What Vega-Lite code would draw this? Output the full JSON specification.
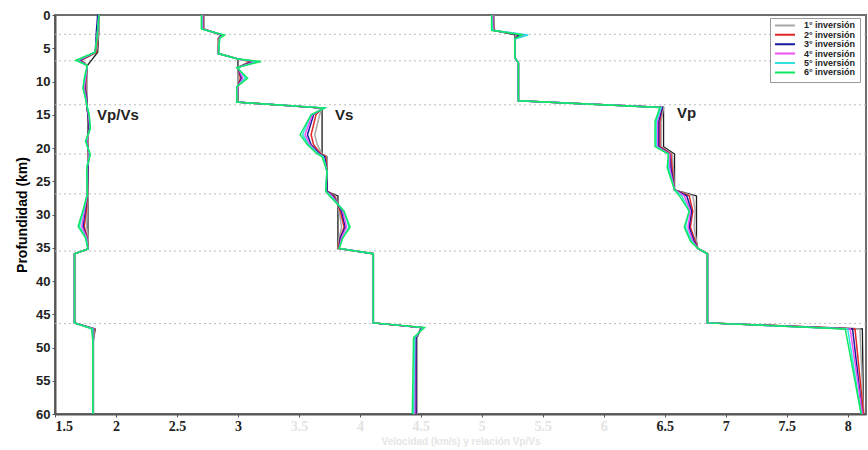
{
  "$schema": "https://vega.github.io/schema/vega-lite/v6.json",
  "width": 811,
  "height": 399,
  "autosize": {"type": "none"},
  "padding": {"left": 55, "top": 15, "right": 2, "bottom": 36},
  "background": "white",
  "config": {
    "view": {"stroke": "#6e6e6e", "strokeWidth": 2},
    "axis": {
      "labelFont": "Liberation Sans",
      "labelFontWeight": "bold",
      "labelFontSize": 13,
      "labelColor": "#222222",
      "domainColor": "#555555",
      "domainWidth": 2,
      "tickColor": "#555555",
      "tickSize": 3,
      "grid": false,
      "labelOverlap": false,
      "titleFont": "Liberation Sans",
      "titleFontWeight": "bold"
    }
  },
  "datasets": {
    "prof": [
      {"p":"R","d":0,"m":1.86,"i1":1.86,"i2":1.86,"i3":1.85,"i4":1.86,"i5":1.86,"i6":1.86},
      {"p":"R","d":2.3,"m":1.86,"i1":1.86,"i2":1.85,"i3":1.84,"i4":1.85,"i5":1.85,"i6":1.85},
      {"p":"R","d":5.6,"m":1.85,"i1":1.84,"i2":1.84,"i3":1.83,"i4":1.83,"i5":1.83,"i6":1.83},
      {"p":"R","d":6.8,"m":1.8,"i1":1.72,"i2":1.71,"i3":1.7,"i4":1.69,"i5":1.68,"i6":1.67},
      {"p":"R","d":7.6,"m":1.765,"i1":1.765,"i2":1.765,"i3":1.765,"i4":1.765,"i5":1.765,"i6":1.765},
      {"p":"R","d":9.5,"m":1.76,"i1":1.76,"i2":1.755,"i3":1.75,"i4":1.75,"i5":1.745,"i6":1.74},
      {"p":"R","d":11,"m":1.76,"i1":1.755,"i2":1.75,"i3":1.745,"i4":1.74,"i5":1.73,"i6":1.73},
      {"p":"R","d":12.5,"m":1.76,"i1":1.76,"i2":1.76,"i3":1.76,"i4":1.755,"i5":1.75,"i6":1.75},
      {"p":"R","d":13.5,"m":1.76,"i1":1.76,"i2":1.76,"i3":1.76,"i4":1.76,"i5":1.76,"i6":1.76},
      {"p":"R","d":15,"m":1.77,"i1":1.77,"i2":1.77,"i3":1.77,"i4":1.775,"i5":1.78,"i6":1.78},
      {"p":"R","d":17,"m":1.77,"i1":1.775,"i2":1.78,"i3":1.78,"i4":1.785,"i5":1.79,"i6":1.79},
      {"p":"R","d":19,"m":1.77,"i1":1.77,"i2":1.765,"i3":1.76,"i4":1.76,"i5":1.755,"i6":1.75},
      {"p":"R","d":21,"m":1.77,"i1":1.77,"i2":1.775,"i3":1.78,"i4":1.78,"i5":1.785,"i6":1.79},
      {"p":"R","d":23,"m":1.77,"i1":1.77,"i2":1.77,"i3":1.77,"i4":1.765,"i5":1.76,"i6":1.76},
      {"p":"R","d":26.9,"m":1.77,"i1":1.77,"i2":1.765,"i3":1.765,"i4":1.765,"i5":1.765,"i6":1.765},
      {"p":"R","d":29,"m":1.77,"i1":1.765,"i2":1.76,"i3":1.75,"i4":1.745,"i5":1.74,"i6":1.735},
      {"p":"R","d":31.8,"m":1.77,"i1":1.76,"i2":1.74,"i3":1.73,"i4":1.72,"i5":1.7,"i6":1.69},
      {"p":"R","d":33.5,"m":1.77,"i1":1.77,"i2":1.765,"i3":1.76,"i4":1.76,"i5":1.755,"i6":1.75},
      {"p":"R","d":35.2,"m":1.77,"i1":1.77,"i2":1.77,"i3":1.77,"i4":1.77,"i5":1.77,"i6":1.77},
      {"p":"R","d":35.9,"m":1.66,"i1":1.66,"i2":1.66,"i3":1.66,"i4":1.66,"i5":1.66,"i6":1.66},
      {"p":"R","d":46.3,"m":1.66,"i1":1.66,"i2":1.66,"i3":1.66,"i4":1.66,"i5":1.66,"i6":1.66},
      {"p":"R","d":47.2,"m":1.83,"i1":1.825,"i2":1.82,"i3":1.815,"i4":1.81,"i5":1.81,"i6":1.8},
      {"p":"R","d":49,"m":1.815,"i1":1.815,"i2":1.81,"i3":1.81,"i4":1.81,"i5":1.81,"i6":1.81},
      {"p":"R","d":60,"m":1.815,"i1":1.815,"i2":1.81,"i3":1.81,"i4":1.81,"i5":1.81,"i6":1.81},

      {"p":"S","d":0,"m":2.72,"i1":2.72,"i2":2.715,"i3":2.71,"i4":2.71,"i5":2.705,"i6":2.7},
      {"p":"S","d":2.1,"m":2.72,"i1":2.72,"i2":2.715,"i3":2.71,"i4":2.71,"i5":2.705,"i6":2.7},
      {"p":"S","d":3,"m":2.86,"i1":2.86,"i2":2.87,"i3":2.87,"i4":2.88,"i5":2.88,"i6":2.89},
      {"p":"S","d":3.5,"m":2.84,"i1":2.84,"i2":2.84,"i3":2.845,"i4":2.845,"i5":2.85,"i6":2.85},
      {"p":"S","d":5.8,"m":2.84,"i1":2.84,"i2":2.84,"i3":2.84,"i4":2.84,"i5":2.84,"i6":2.84},
      {"p":"S","d":6.6,"m":3.0,"i1":3.0,"i2":3.0,"i3":3.0,"i4":3.0,"i5":3.0,"i6":3.0},
      {"p":"S","d":7,"m":3.0,"i1":3.09,"i2":3.11,"i3":3.13,"i4":3.15,"i5":3.17,"i6":3.19},
      {"p":"S","d":7.9,"m":3.0,"i1":3.0,"i2":3.0,"i3":3.0,"i4":3.0,"i5":3.0,"i6":2.99},
      {"p":"S","d":9.5,"m":3.0,"i1":3.0,"i2":3.02,"i3":3.03,"i4":3.04,"i5":3.06,"i6":3.08},
      {"p":"S","d":10.8,"m":3.0,"i1":3.0,"i2":3.0,"i3":3.0,"i4":3.0,"i5":2.99,"i6":2.99},
      {"p":"S","d":13.1,"m":3.0,"i1":2.99,"i2":2.99,"i3":2.99,"i4":2.99,"i5":2.99,"i6":2.99},
      {"p":"S","d":14,"m":3.69,"i1":3.69,"i2":3.69,"i3":3.7,"i4":3.7,"i5":3.71,"i6":3.71},
      {"p":"S","d":15,"m":3.69,"i1":3.67,"i2":3.64,"i3":3.62,"i4":3.61,"i5":3.6,"i6":3.6},
      {"p":"S","d":18,"m":3.69,"i1":3.63,"i2":3.6,"i3":3.57,"i4":3.55,"i5":3.53,"i6":3.51},
      {"p":"S","d":19.5,"m":3.69,"i1":3.65,"i2":3.62,"i3":3.6,"i4":3.59,"i5":3.58,"i6":3.57},
      {"p":"S","d":20.9,"m":3.69,"i1":3.69,"i2":3.68,"i3":3.67,"i4":3.66,"i5":3.66,"i6":3.65},
      {"p":"S","d":21.3,"m":3.73,"i1":3.73,"i2":3.72,"i3":3.71,"i4":3.7,"i5":3.7,"i6":3.69},
      {"p":"S","d":23.5,"m":3.73,"i1":3.73,"i2":3.73,"i3":3.73,"i4":3.73,"i5":3.73,"i6":3.73},
      {"p":"S","d":26.5,"m":3.73,"i1":3.73,"i2":3.73,"i3":3.73,"i4":3.72,"i5":3.72,"i6":3.72},
      {"p":"S","d":27.2,"m":3.82,"i1":3.8,"i2":3.79,"i3":3.78,"i4":3.77,"i5":3.76,"i6":3.75},
      {"p":"S","d":29.5,"m":3.82,"i1":3.83,"i2":3.84,"i3":3.85,"i4":3.86,"i5":3.87,"i6":3.87},
      {"p":"S","d":31.9,"m":3.82,"i1":3.85,"i2":3.87,"i3":3.88,"i4":3.89,"i5":3.91,"i6":3.92},
      {"p":"S","d":33.5,"m":3.82,"i1":3.83,"i2":3.84,"i3":3.84,"i4":3.85,"i5":3.86,"i6":3.86},
      {"p":"S","d":35.1,"m":3.82,"i1":3.82,"i2":3.82,"i3":3.83,"i4":3.83,"i5":3.83,"i6":3.83},
      {"p":"S","d":35.9,"m":4.11,"i1":4.11,"i2":4.11,"i3":4.11,"i4":4.11,"i5":4.11,"i6":4.11},
      {"p":"S","d":46.3,"m":4.11,"i1":4.11,"i2":4.11,"i3":4.11,"i4":4.11,"i5":4.11,"i6":4.11},
      {"p":"S","d":47,"m":4.5,"i1":4.5,"i2":4.51,"i3":4.51,"i4":4.52,"i5":4.52,"i6":4.53},
      {"p":"S","d":48.5,"m":4.47,"i1":4.47,"i2":4.46,"i3":4.46,"i4":4.45,"i5":4.45,"i6":4.44},
      {"p":"S","d":60,"m":4.47,"i1":4.47,"i2":4.46,"i3":4.46,"i4":4.45,"i5":4.44,"i6":4.43},

      {"p":"P","d":0,"m":5.1,"i1":5.1,"i2":5.09,"i3":5.09,"i4":5.09,"i5":5.08,"i6":5.08},
      {"p":"P","d":2.3,"m":5.1,"i1":5.1,"i2":5.1,"i3":5.09,"i4":5.09,"i5":5.09,"i6":5.08},
      {"p":"P","d":3,"m":5.27,"i1":5.28,"i2":5.3,"i3":5.31,"i4":5.36,"i5":5.38,"i6":5.33},
      {"p":"P","d":3.6,"m":5.27,"i1":5.27,"i2":5.27,"i3":5.27,"i4":5.27,"i5":5.27,"i6":5.27},
      {"p":"P","d":6.4,"m":5.27,"i1":5.27,"i2":5.27,"i3":5.27,"i4":5.27,"i5":5.27,"i6":5.27},
      {"p":"P","d":7.2,"m":5.3,"i1":5.3,"i2":5.3,"i3":5.3,"i4":5.3,"i5":5.3,"i6":5.3},
      {"p":"P","d":12.9,"m":5.3,"i1":5.3,"i2":5.3,"i3":5.3,"i4":5.3,"i5":5.3,"i6":5.3},
      {"p":"P","d":13.9,"m":6.49,"i1":6.49,"i2":6.48,"i3":6.48,"i4":6.47,"i5":6.47,"i6":6.46},
      {"p":"P","d":16,"m":6.49,"i1":6.47,"i2":6.46,"i3":6.45,"i4":6.44,"i5":6.43,"i6":6.42},
      {"p":"P","d":19.8,"m":6.49,"i1":6.47,"i2":6.46,"i3":6.45,"i4":6.44,"i5":6.43,"i6":6.42},
      {"p":"P","d":20.9,"m":6.58,"i1":6.56,"i2":6.55,"i3":6.54,"i4":6.54,"i5":6.53,"i6":6.53},
      {"p":"P","d":23,"m":6.58,"i1":6.57,"i2":6.56,"i3":6.55,"i4":6.54,"i5":6.53,"i6":6.52},
      {"p":"P","d":26.3,"m":6.58,"i1":6.58,"i2":6.58,"i3":6.58,"i4":6.58,"i5":6.58,"i6":6.58},
      {"p":"P","d":27.2,"m":6.76,"i1":6.73,"i2":6.7,"i3":6.68,"i4":6.66,"i5":6.64,"i6":6.62},
      {"p":"P","d":29.5,"m":6.76,"i1":6.75,"i2":6.73,"i3":6.72,"i4":6.71,"i5":6.7,"i6":6.7},
      {"p":"P","d":31.9,"m":6.76,"i1":6.74,"i2":6.71,"i3":6.7,"i4":6.69,"i5":6.67,"i6":6.66},
      {"p":"P","d":34,"m":6.76,"i1":6.76,"i2":6.75,"i3":6.74,"i4":6.73,"i5":6.72,"i6":6.71},
      {"p":"P","d":35.1,"m":6.77,"i1":6.77,"i2":6.77,"i3":6.77,"i4":6.77,"i5":6.77,"i6":6.77},
      {"p":"P","d":35.9,"m":6.85,"i1":6.85,"i2":6.85,"i3":6.85,"i4":6.85,"i5":6.85,"i6":6.85},
      {"p":"P","d":46.3,"m":6.85,"i1":6.85,"i2":6.85,"i3":6.85,"i4":6.85,"i5":6.85,"i6":6.85},
      {"p":"P","d":47.2,"m":8.12,"i1":8.1,"i2":8.06,"i3":8.04,"i4":8.02,"i5":8.0,"i6":7.98},
      {"p":"P","d":60,"m":8.13,"i1":8.13,"i2":8.13,"i3":8.12,"i4":8.12,"i5":8.11,"i6":8.11}
    ],
    "bounds": [{"d":2.9},{"d":6.9},{"d":13.5},{"d":20.9},{"d":26.9},{"d":35.5},{"d":46.4}],
    "labels": [
      {"t":"Vp/Vs","v":1.845,"d":15.0},
      {"t":"Vs","v":3.795,"d":15.0},
      {"t":"Vp","v":6.6,"d":14.7}
    ]
  },
  "layer": [
    {
      "data": {"name": "bounds"},
      "mark": {"type": "rule", "color": "#bdbdbd", "strokeDash": [2, 3], "strokeWidth": 1},
      "encoding": {
        "y": {"field": "d", "type": "quantitative", "scale": {"domain": [0, 60], "reverse": true, "nice": false, "zero": false},
              "axis": {"title": "Profundidad (km)", "values": [0,5,10,15,20,25,30,35,40,45,50,55,60], "titleFontSize": 14, "titlePadding": 6, "labelPadding": 2}}
      }
    },
    {
      "data": {"name": "prof"},
      "mark": {"type": "line", "color": "#1a1a1a", "strokeWidth": 1.3},
      "encoding": {
        "x": {"field": "m", "type": "quantitative", "scale": {"domain": [1.5, 8.15], "nice": false, "zero": false},
              "axis": {"title": "Velocidad (km/s) y relación Vp/Vs", "values": [1.5,2,2.5,3,3.5,4,4.5,5,5.5,6,6.5,7,7.5,8], "format": "~g",
                       "labelFont": "Liberation Sans Narrow", "labelFontSize": 14,
                       "labelColor": {"condition": {"test": "datum.value > 3.2 && datum.value < 6.2", "value": "#e3e3e3"}, "value": "#222222"},
                       "titleColor": "#e6e6e6", "titleFontSize": 10, "titlePadding": 3, "labelPadding": 2}},
        "y": {"field": "d", "type": "quantitative",
              "axis": {"title": "Profundidad (km)", "values": [0,5,10,15,20,25,30,35,40,45,50,55,60], "titleFontSize": 14, "titlePadding": 6, "labelPadding": 2}},
        "detail": {"field": "p"},
        "order": {"field": "d", "type": "quantitative"}
      }
    },
    {
      "data": {"name": "prof"},
      "transform": [{"fold": ["i1","i2","i3","i4","i5","i6"], "as": ["k","v"]}],
      "mark": {"type": "line", "strokeWidth": 1.5},
      "encoding": {
        "x": {"field": "v", "type": "quantitative",
              "axis": {"title": "Velocidad (km/s) y relación Vp/Vs", "values": [1.5,2,2.5,3,3.5,4,4.5,5,5.5,6,6.5,7,7.5,8], "format": "~g",
                       "labelFont": "Liberation Sans Narrow", "labelFontSize": 14,
                       "labelColor": {"condition": {"test": "datum.value > 3.2 && datum.value < 6.2", "value": "#e3e3e3"}, "value": "#222222"},
                       "titleColor": "#e6e6e6", "titleFontSize": 10, "titlePadding": 3, "labelPadding": 2}},
        "y": {"field": "d", "type": "quantitative",
              "axis": {"title": "Profundidad (km)", "values": [0,5,10,15,20,25,30,35,40,45,50,55,60], "titleFontSize": 14, "titlePadding": 6, "labelPadding": 2}},
        "detail": {"field": "p"},
        "order": {"field": "d", "type": "quantitative"},
        "color": {
          "field": "k", "type": "nominal",
          "scale": {"domain": ["i1","i2","i3","i4","i5","i6"], "range": ["#a8a8a8","#e02828","#1a1aa0","#f050f0","#30e0e0","#10e860"]},
          "legend": {
            "title": null, "orient": "none", "legendX": 715, "legendY": 3,
            "labelExpr": "replace(datum.label, 'i', '') + '° inversión'",
            "symbolType": "stroke", "symbolSize": 400, "symbolStrokeWidth": 2,
            "labelFont": "Liberation Sans", "labelFontWeight": "bold", "labelFontSize": 9, "labelColor": "#222222",
            "labelOffset": 8, "clipHeight": 6.8, "rowPadding": -0.6, "padding": 4,
            "fillColor": "white", "strokeColor": "#9a9a9a"
          }
        }
      }
    },
    {
      "data": {"name": "labels"},
      "mark": {"type": "text", "align": "left", "baseline": "middle", "font": "Liberation Sans", "fontWeight": "bold", "fontSize": 15, "color": "#222222"},
      "encoding": {
        "x": {"field": "v", "type": "quantitative",
              "axis": {"title": "Velocidad (km/s) y relación Vp/Vs", "values": [1.5,2,2.5,3,3.5,4,4.5,5,5.5,6,6.5,7,7.5,8], "format": "~g",
                       "labelFont": "Liberation Sans Narrow", "labelFontSize": 14,
                       "labelColor": {"condition": {"test": "datum.value > 3.2 && datum.value < 6.2", "value": "#e3e3e3"}, "value": "#222222"},
                       "titleColor": "#e6e6e6", "titleFontSize": 10, "titlePadding": 3, "labelPadding": 2}},
        "y": {"field": "d", "type": "quantitative",
              "axis": {"title": "Profundidad (km)", "values": [0,5,10,15,20,25,30,35,40,45,50,55,60], "titleFontSize": 14, "titlePadding": 6, "labelPadding": 2}},
        "text": {"field": "t"}
      }
    }
  ]
}
